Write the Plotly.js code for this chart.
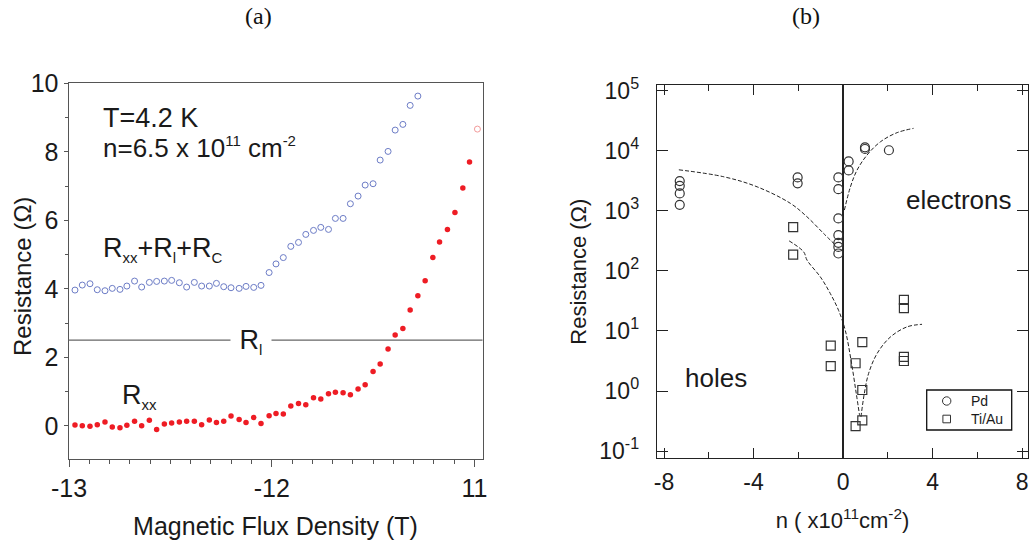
<!DOCTYPE html>
<html>
<head>
<meta charset="utf-8">
<script src="https://cdn.plot.ly/plotly-3.0.1.min.js"></script>
<style>html,body{margin:0;padding:0;background:#fff;}#chart{width:1031px;height:544px;}</style>
</head>
<body>
<div id="chart"></div>
<script>
// ---------- Panel (a) data ----------
const fieldT = [-12.971,-12.935,-12.897,-12.861,-12.823,-12.787,-12.749,-12.715,-12.677,-12.642,
  -12.604,-12.568,-12.530,-12.494,-12.456,-12.420,-12.382,-12.346,-12.308,-12.273,
  -12.237,-12.201,-12.161,-12.127,-12.089,-12.053,-12.013,-11.979,-11.943,-11.906,
  -11.868,-11.832,-11.794,-11.758,-11.720,-11.686,-11.648,-11.612,-11.574,-11.539,
  -11.500,-11.465,-11.426,-11.391,-11.353,-11.317,-11.279,-11.243,-11.205,-11.172,
  -11.133,-11.096,-11.057,-11.024,-10.985];
const rTotal = [3.963,4.109,4.148,3.973,3.944,4.012,3.983,4.080,4.226,4.051,
  4.187,4.216,4.226,4.246,4.177,4.051,4.187,4.080,4.080,4.158,
  4.061,4.031,4.012,4.070,4.041,4.100,4.475,4.727,4.912,5.239,
  5.355,5.589,5.706,5.794,5.735,6.056,6.056,6.484,6.708,7.030,
  7.069,7.760,8.013,8.636,8.802,9.357,9.629];
const rxx = [0.020,0.001,-0.018,0.030,0.108,-0.038,-0.058,0.011,0.128,0.001,
  0.157,-0.106,0.050,0.079,0.108,0.128,0.128,0.030,0.166,0.098,
  0.128,0.283,0.186,0.098,0.244,0.069,0.293,0.361,0.342,0.575,
  0.653,0.614,0.819,0.780,0.935,0.975,0.965,0.906,1.072,1.198,
  1.588,1.802,2.240,2.649,2.844,3.379,3.798,4.236,4.917,5.365,
  5.735,6.232,6.942,7.701];
const rxxLastOpen = [8.665];
const rLead = 2.5;
const aXTickVals = [-13, -12, -11];
const aXTickText = ['-13', '-12', '11'];
const aYTickVals = [0, 2, 4, 6, 8, 10];

// ---------- Panel (b) data ----------
const pdN = [-7.3,-7.3,-7.3,-7.3,-2.03,-2.03,-0.21,-0.21,-0.21,-0.21,-0.21,-0.21,-0.21,0.25,0.25,0.98,0.98,2.05];
const pdR = [3130,2610,1950,1260,3600,2870,3600,2290,747,394,293,251,195,6650,4710,10700,11400,10200];
const tiN = [-2.23,-2.23,-0.55,-0.55,0.56,0.56,0.86,0.86,0.86,2.72,2.72,2.72,2.72];
const tiR = [535,186,5.7,2.6,2.9,0.26,6.5,1.04,0.325,33,24,3.7,3.16];
// dashed guide curves
const pdHoleN = [-7.34,-5.33,-3.84,-2.35,-1.61,-0.87,-0.34];
const pdHoleR = [4820,3690,2510,1330,794,420,269];
const pdElecN = [0.06,0.33,0.625,1.07,1.67,2.41,3.15];
const pdElecR = [1030,2510,4760,8470,14100,20000,23600];
const tiHoleN = [-2.41,-1.76,-1.61,-1.01,-0.57,-0.2,0.10,0.36,0.59,0.74];
const tiHoleR = [316,207,151,79,42,22,10.2,3.2,0.91,0.39];
const tiElecN = [0.80,0.95,1.14,1.52,2.11,2.86,3.53];
const tiElecR = [0.37,0.91,1.95,4.2,7.9,11.7,12.9];
const bYTickVals = [0.1,1,10,100,1000,10000,100000];
const bYTickText = ['10<sup>-1</sup>','10<sup>0</sup>','10<sup>1</sup>','10<sup>2</sup>','10<sup>3</sup>','10<sup>4</sup>','10<sup>5</sup>'];
const bXTickVals = [-8,-4,0,4,8];
const bXTickText = ['-8','-4','0','4','8'];
const legendNames = ['Pd', 'Ti/Au'];

// ---------- helpers (pixel -> paper) ----------
const W = 1031, H = 544;
const px = v => v / W;
const py = v => 1 - v / H;
const SANS = 'Liberation Sans, Arial, sans-serif';
const SERIF = 'Liberation Serif, DejaVu Serif, serif';
const TXT = '#1a1a1a';
const sub = t => '<sub><span style="font-size:15px">' + t + '</span></sub>';
const sup = t => '<sup><span style="font-size:15px">' + t + '</span></sup>';

const dashLine = {color:'#222', width:1, dash:'4px,2px', shape:'spline'};
const traces = [
  {x: fieldT.slice(0, rTotal.length), y: rTotal, xaxis:'x', yaxis:'y', mode:'markers', type:'scatter',
   marker:{symbol:'circle-open', size:6, color:'#6c7cc6', line:{width:1}}, showlegend:false},
  {x: fieldT.slice(0, rxx.length), y: rxx, xaxis:'x', yaxis:'y', mode:'markers', type:'scatter',
   marker:{symbol:'circle', size:5.5, color:'#ee1c24'}, showlegend:false},
  {x: fieldT.slice(rxx.length), y: rxxLastOpen, xaxis:'x', yaxis:'y', mode:'markers', type:'scatter',
   marker:{symbol:'circle-open', size:6, color:'#f39a9a', line:{width:1}}, showlegend:false},

  {x: pdHoleN, y: pdHoleR, xaxis:'x2', yaxis:'y2', mode:'lines', type:'scatter', line:dashLine, showlegend:false},
  {x: pdElecN, y: pdElecR, xaxis:'x2', yaxis:'y2', mode:'lines', type:'scatter', line:dashLine, showlegend:false},
  {x: tiHoleN, y: tiHoleR, xaxis:'x2', yaxis:'y2', mode:'lines', type:'scatter', line:dashLine, showlegend:false},
  {x: tiElecN, y: tiElecR, xaxis:'x2', yaxis:'y2', mode:'lines', type:'scatter', line:dashLine, showlegend:false},
  {x: pdN, y: pdR, xaxis:'x2', yaxis:'y2', mode:'markers', type:'scatter', name:legendNames[0], showlegend:false,
   marker:{symbol:'circle-open', size:9, color:'#333', line:{width:1.2}}},
  {x: tiN, y: tiR, xaxis:'x2', yaxis:'y2', mode:'markers', type:'scatter', name:legendNames[1], showlegend:false,
   marker:{symbol:'square-open', size:9, color:'#333', line:{width:1.2}}}
];

// hand-built legend box for panel (b)
const LX0 = 926.7, LX1 = 1011.7, LY0 = 390, LY1 = 430, MX = 946.7, TX = 969, R1 = 401, R2 = 419;
const legendShapes = [
  {type:'rect', xref:'paper', yref:'paper', x0:px(LX0), x1:px(LX1), y0:py(LY1), y1:py(LY0),
   line:{color:'#111', width:1.3}, fillcolor:'#fff'},
  {type:'circle', xref:'paper', yref:'paper', x0:px(MX-4.2), x1:px(MX+4.2), y0:py(R1+4.2), y1:py(R1-4.2),
   line:{color:'#333', width:1}},
  {type:'rect', xref:'paper', yref:'paper', x0:px(MX-3.8), x1:px(MX+3.8), y0:py(R2+3.8), y1:py(R2-3.8),
   line:{color:'#333', width:1}}
];

const layout = {
  width: W, height: H,
  margin: {l:0, r:0, t:0, b:0},
  paper_bgcolor: '#fff', plot_bgcolor: '#fff',
  font: {family: SANS, color: TXT, size: 22},
  showlegend: false,
  xaxis: {
    domain: [px(68.5), px(482.5)], anchor: 'y',
    range: [-13.003, -10.96], tickvals: aXTickVals, ticktext: aXTickText,
    ticks: 'outside', ticklen: 7, tickcolor: '#555', tickwidth: 1,
    minor: {dtick: 0.1, tick0: -13, ticks: 'outside', ticklen: 3.5, tickcolor: '#555'},
    showline: true, linecolor: '#555', linewidth: 1, mirror: true,
    showgrid: false, zeroline: false,
    tickfont: {size: 25, family: SANS, color: TXT},
    title: {text: 'Magnetic Flux Density (T)', font: {size: 25, family: SANS, color: TXT}, standoff: 16}
  },
  yaxis: {
    domain: [py(459.3), py(82.7)], anchor: 'x',
    range: [-0.98, 10.02], tickvals: aYTickVals,
    ticks: 'outside', ticklen: 4, tickcolor: '#555', tickwidth: 1,
    minor: {dtick: 1, tick0: 0, ticks: 'outside', ticklen: 3, tickcolor: '#555'},
    showline: true, linecolor: '#555', linewidth: 1, mirror: true,
    showgrid: false, zeroline: false,
    tickfont: {size: 25, family: SANS, color: TXT}
  },
  xaxis2: {
    domain: [px(656.7), px(1028.3)], anchor: 'y2',
    range: [-8.33, 8.28], tickvals: bXTickVals, ticktext: bXTickText,
    ticks: 'inside', ticklen: 10, tickcolor: '#222', tickwidth: 1,
    minor: {dtick: 2, tick0: 0, ticks: 'inside', ticklen: 6, tickcolor: '#222'},
    showline: true, linecolor: '#222', linewidth: 1, mirror: 'ticks',
    showgrid: false, zeroline: true, zerolinecolor: '#222', zerolinewidth: 1.2,
    ticklabelstandoff: 3,
    tickfont: {size: 23, family: SANS, color: TXT},
    title: {text: 'n ( x10<sup>11</sup>cm<sup>-2</sup>)', font: {size: 22, family: SANS, color: TXT}, standoff: 18}
  },
  yaxis2: {
    domain: [py(458.3), py(85)], anchor: 'x2', type: 'log',
    range: [-1.12, 5.095], tickvals: bYTickVals, ticktext: bYTickText,
    ticks: 'inside', ticklen: 11, tickcolor: '#222', tickwidth: 1,
    showline: true, linecolor: '#222', linewidth: 1, mirror: 'ticks',
    showgrid: false, zeroline: false,
    ticklabelstandoff: 12,
    tickfont: {size: 23, family: SANS, color: TXT},
    title: {text: 'Resistance (Ω)', font: {size: 22, family: SANS, color: TXT}, standoff: 6}
  },
  shapes: [
    {type: 'line', xref: 'x domain', x0: 0, x1: 1, yref: 'y', y0: rLead, y1: rLead,
     line: {color: '#666', width: 1.2}}
  ].concat(legendShapes),
  annotations: [
    {text: 'Resistance (Ω)', xref: 'paper', yref: 'paper', x: px(22), y: py(277), xanchor: 'center', yanchor: 'middle',
     textangle: -90, showarrow: false, font: {size: 24}},
    {text: '(a)', xref: 'paper', yref: 'paper', x: px(258), y: py(16), xanchor: 'center', yanchor: 'middle', showarrow: false,
     font: {family: SERIF, size: 24, color: '#111'}},
    {text: '(b)', xref: 'paper', yref: 'paper', x: px(806), y: py(16), xanchor: 'center', yanchor: 'middle', showarrow: false,
     font: {family: SERIF, size: 24, color: '#111'}},
    {text: 'T=4.2 K', xref: 'paper', yref: 'paper', x: px(101), y: py(118), xanchor: 'left', yanchor: 'middle', showarrow: false,
     font: {size: 27}},
    {text: 'n=6.5 x 10' + sup('11') + ' cm' + sup('-2'), xref: 'paper', yref: 'paper', x: px(101), y: py(148), xanchor: 'left', yanchor: 'middle', showarrow: false,
     font: {size: 26}},
    {text: 'R' + sub('xx') + '+R' + sub('l') + '+R' + sub('C'), xref: 'paper', yref: 'paper', x: px(101), y: py(250), xanchor: 'left', yanchor: 'middle', showarrow: false,
     font: {size: 27}},
    {text: 'R' + sub('l'), xref: 'paper', yref: 'paper', x: px(251), y: py(341), xanchor: 'center', yanchor: 'middle', showarrow: false,
     bgcolor: '#fff', width: 38, font: {size: 27}},
    {text: 'R' + sub('xx'), xref: 'paper', yref: 'paper', x: px(120), y: py(396), xanchor: 'left', yanchor: 'middle', showarrow: false,
     font: {size: 27}},
    {text: 'electrons', xref: 'paper', yref: 'paper', x: px(959), y: py(200), xanchor: 'center', yanchor: 'middle', showarrow: false,
     font: {size: 26}},
    {text: 'holes', xref: 'paper', yref: 'paper', x: px(716), y: py(378), xanchor: 'center', yanchor: 'middle', showarrow: false,
     font: {size: 26}},
    {text: legendNames.join('<br>'), xref: 'paper', yref: 'paper', x: px(TX), y: py((R1 + R2) / 2), xanchor: 'left', yanchor: 'middle',
     align: 'left', showarrow: false, font: {size: 14}}
  ]
};

Plotly.newPlot('chart', traces, layout, {displayModeBar: false, staticPlot: true});
</script>
</body>
</html>
